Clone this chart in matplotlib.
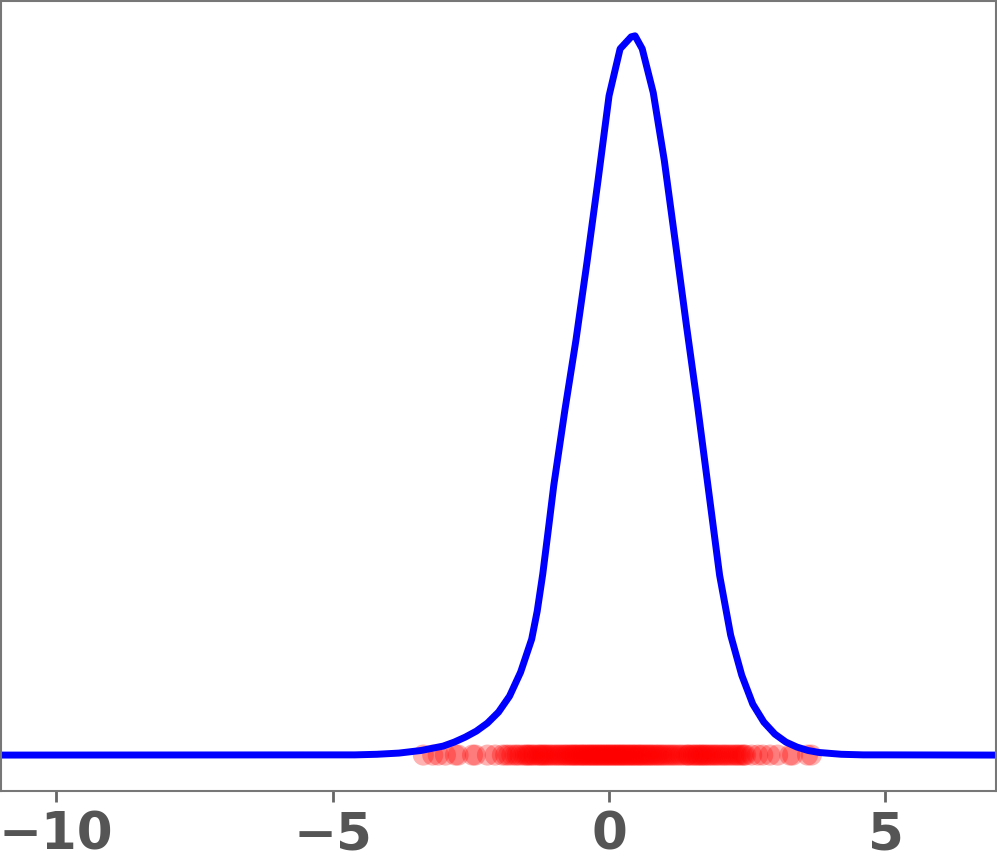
import matplotlib
matplotlib.use("Agg")
import matplotlib.pyplot as plt
import numpy as np

# density curve
kde_x = [-11.0, -5.0, -4.6, -4.2, -3.8, -3.4, -3.0, -2.8, -2.6, -2.4, -2.2,
         -2.0, -1.8, -1.6, -1.4, -1.3, -1.2, -1.1, -1.0, -0.8, -0.6, -0.4,
         -0.2, 0.0, 0.2, 0.4, 0.47, 0.6, 0.8, 1.0, 1.2, 1.4, 1.6, 1.8,
         2.0, 2.2, 2.4, 2.6, 2.8, 3.0, 3.2, 3.4, 3.6, 3.8, 4.2, 4.6, 5.0, 7.0]
kde_y = [0.0, 0.0001, 0.0001, 0.0004, 0.001, 0.0023, 0.0045, 0.0065, 0.009, 0.012, 0.016,
         0.0215, 0.0295, 0.0415, 0.058, 0.072, 0.0905, 0.1125, 0.135, 0.1725, 0.2075, 0.2465,
         0.2875, 0.33, 0.3535, 0.3595, 0.36, 0.3535, 0.3315, 0.2975, 0.2565, 0.215, 0.175, 0.1325,
         0.09, 0.06, 0.04, 0.0255, 0.0165, 0.0105, 0.0065, 0.004, 0.0023, 0.0013, 0.0004, 0.0001, 0.0001, 0.0]

# sample points along the baseline
samples = [-3.36, -3.19, -3.09, -2.96, -2.78, -2.73, -2.47, -2.42, -2.20, -2.06,
           -1.93, -1.87, -1.82, -1.76, -1.70, -1.66, -1.61, -1.55, -1.51, -1.48,
           -1.45, -1.42, -1.38, -1.35, -1.3, -1.27, -1.24, -1.21, -1.18, -1.15,
           -1.12, -1.08, -1.05, -1.01,
           -0.97, -0.94, -0.9, -0.87, -0.83, -0.8, -0.77, -0.74, -0.7, -0.68,
           -0.65, -0.62, -0.6, -0.57, -0.54, -0.51, -0.49, -0.46, -0.44, -0.41,
           -0.38, -0.36, -0.33, -0.31, -0.28, -0.26, -0.23, -0.21, -0.18, -0.16,
           -0.13, -0.11, -0.08, -0.06, -0.03, -0.01, 0.02, 0.04, 0.07, 0.09,
           0.12, 0.14, 0.17, 0.19, 0.22, 0.24, 0.27, 0.29, 0.32, 0.35,
           0.37, 0.4, 0.43, 0.45, 0.48, 0.51, 0.54, 0.56, 0.59, 0.62,
           0.65, 0.68, 0.71, 0.74, 0.77, 0.8, 0.84, 0.87, 0.9, 0.94,
           0.97, 1.01, 1.05, 1.09, 1.13, 1.17, 1.21, 1.26, 1.3, 1.35,
           1.4, 1.43, 1.45, 1.5, 1.53, 1.56, 1.6, 1.62, 1.66, 1.68, 1.72,
           1.74, 1.78, 1.81, 1.85, 1.88, 1.92, 1.95, 1.99, 2.03, 2.07, 2.1,
           2.14, 2.18, 2.22, 2.26, 2.3, 2.33, 2.37, 2.41, 2.44, 2.47,
           2.58, 2.69, 2.78, 2.91, 3.05, 3.27, 3.32, 3.59, 3.66]

fig = plt.figure(figsize=(9.97, 8.65), dpi=100)
ax = fig.add_axes([0.001, 0.0855, 0.998, 0.9135])

ax.plot(kde_x, kde_y, color="blue", lw=5)
ax.scatter(samples, np.zeros(len(samples)), s=230, color="red", alpha=0.3, edgecolors="none")

ax.set_xlim(-11, 7)
ax.set_ylim(-0.018, 0.3775)
ax.set_xticks([-10, -5, 0, 5])
ax.set_yticks([])
ax.tick_params(axis="x", length=8, width=2, color="#666666", pad=6,
               labelsize=37, labelcolor="#555555")
for lab in ax.get_xticklabels():
    lab.set_fontweight("bold")
for sp in ax.spines.values():
    sp.set_color("#777777")
    sp.set_linewidth(1.5)

fig.savefig("out.png", dpi=100)
